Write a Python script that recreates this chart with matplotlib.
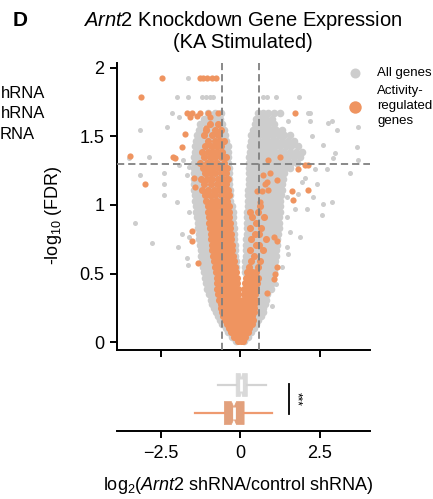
import matplotlib.pyplot as plt

plt.rcParams['font.family'] = ['Liberation Sans', 'DejaVu Sans']
plt.rcParams['mathtext.fontset'] = 'custom'
plt.rcParams['mathtext.rm'] = 'Liberation Sans'
plt.rcParams['mathtext.it'] = 'Liberation Sans:italic'
plt.rcParams['mathtext.bf'] = 'Liberation Sans:bold'

GRAY = '#cdcdcd'
ORANGE = '#ef9460'

# thresholds
fc_cut = 0.585      # log2(1.5)
fdr_cut = 1.301     # -log10(0.05)

# dense part of the volcano, read row by row (y = -log10 FDR)
band_y = [0.01, 0.04, 0.07, 0.10, 0.13, 0.16, 0.19, 0.22, 0.25, 0.28,
          0.31, 0.35, 0.39, 0.43, 0.47, 0.51, 0.55, 0.59, 0.63, 0.67,
          0.71, 0.75, 0.79, 0.83, 0.87, 0.91, 0.95, 0.99, 1.03, 1.07,
          1.11, 1.15, 1.19, 1.23, 1.27, 1.31, 1.35, 1.39, 1.43, 1.47,
          1.51, 1.55, 1.59, 1.63, 1.67]

band_gray_x = [
    [-0.13, 0.11],
    [-0.25, 0.23],
    [-0.37, -0.3, 0.29, 0.35],
    [-0.46, -0.38, 0.34, 0.42],
    [-0.56, -0.47, 0.4, 0.49],
    [-0.64, -0.55, 0.44, 0.54],
    [-0.71, -0.61, 0.47, 0.57, 0.66],
    [-0.77, -0.67, -0.59, 0.5, 0.6, 0.7],
    [-0.83, -0.73, -0.64, 0.51, 0.61, 0.72],
    [-0.88, -0.78, -0.68, 0.49, 0.59, 0.69, 0.79],
    [-0.93, -0.83, -0.73, 0.5, 0.6, 0.71, 0.82],
    [-0.98, -0.88, -0.78, 0.52, 0.62, 0.73, 0.85],
    [-1.03, -0.93, -0.82, 0.55, 0.65, 0.76, 0.88, 0.96],
    [-1.08, -0.97, -0.86, -0.77, 0.58, 0.68, 0.79, 0.9, 1.0],
    [-1.11, -1.0, -0.9, -0.8, 0.6, 0.7, 0.81, 0.92, 1.03],
    [-1.14, -1.04, -0.94, -0.84, 0.15, 0.24, 0.33, 0.43, 0.53, 0.63, 0.73, 0.84, 0.95, 1.05],
    [-1.17, -1.07, -0.97, -0.88, -0.13, 0.16, 0.25, 0.35, 0.45, 0.55, 0.65, 0.76, 0.87, 0.98, 1.08],
    [-1.2, -1.1, -1.0, -0.91, -0.15, 0.16, 0.26, 0.36, 0.46, 0.56, 0.66, 0.77, 0.88, 0.99, 1.09],
    [-1.22, -1.12, -1.02, -0.93, -0.16, 0.17, 0.27, 0.37, 0.47, 0.57, 0.68, 0.79, 0.9, 1.01, 1.11],
    [-1.24, -1.14, -1.04, -0.95, -0.17, 0.18, 0.28, 0.38, 0.48, 0.58, 0.69, 0.8, 0.91, 1.02, 1.12],
    [-1.26, -1.16, -1.06, -0.97, -0.18, 0.18, 0.28, 0.38, 0.49, 0.6, 0.71, 0.82, 0.93, 1.04, 1.14],
    [-1.28, -1.18, -1.08, -0.99, -0.19, 0.19, 0.29, 0.39, 0.5, 0.61, 0.72, 0.83, 0.94, 1.05, 1.16],
    [-1.3, -1.2, -1.1, -1.01, -0.2, 0.2, 0.3, 0.4, 0.51, 0.62, 0.73, 0.84, 0.95, 1.07, 1.18],
    [-1.32, -1.22, -1.12, -1.03, -0.21, 0.2, 0.3, 0.41, 0.52, 0.63, 0.74, 0.85, 0.97, 1.09, 1.2],
    [-1.34, -1.24, -1.14, -1.05, -0.22, 0.21, 0.31, 0.42, 0.53, 0.64, 0.75, 0.86, 0.98, 1.1, 1.21],
    [-1.36, -1.26, -1.16, -1.07, -0.23, 0.22, 0.32, 0.43, 0.54, 0.65, 0.76, 0.87, 0.99, 1.11, 1.22],
    [-1.38, -1.28, -1.18, -1.09, -0.24, 0.22, 0.32, 0.43, 0.54, 0.65, 0.77, 0.88, 1.0, 1.12, 1.24],
    [-1.4, -1.3, -1.2, -1.1, -0.25, 0.23, 0.33, 0.44, 0.55, 0.66, 0.78, 0.89, 1.01, 1.13, 1.25],
    [-1.42, -1.32, -1.22, -1.12, -1.02, -0.92, -0.82, -0.72, -0.62, -0.52, -0.42, -0.31,
     0.24, 0.34, 0.45, 0.56, 0.67, 0.79, 0.9, 1.02, 1.14, 1.26],
    [-1.43, -1.33, -1.23, -1.13, -1.03, -0.93, -0.83, -0.73, -0.63, -0.53, -0.43, -0.32,
     0.25, 0.35, 0.46, 0.57, 0.68, 0.8, 0.91, 1.03, 1.15, 1.28],
    [-1.44, -1.34, -1.24, -1.14, -1.04, -0.94, -0.84, -0.74, -0.64, -0.54, -0.44, -0.33,
     0.25, 0.35, 0.46, 0.57, 0.69, 0.81, 0.93, 1.05, 1.17, 1.3],
    [-1.45, -1.35, -1.25, -1.15, -1.05, -0.95, -0.85, -0.75, -0.65, -0.55, -0.45, -0.34,
     0.26, 0.36, 0.47, 0.58, 0.7, 0.82, 0.94, 1.06, 1.18, 1.32],
    [-1.46, -1.36, -1.26, -1.16, -1.06, -0.96, -0.86, -0.76, -0.66, -0.56, -0.46, -0.35,
     0.26, 0.36, 0.47, 0.58, 0.7, 0.82, 0.95, 1.07, 1.2, 1.34],
    [-1.46, -1.35, -1.24, -1.13, -1.02, -0.91, -0.8, -0.69, -0.58, -0.47, -0.36,
     0.27, 0.37, 0.48, 0.6, 0.72, 0.84, 0.97, 1.1, 1.23, 1.38],
    [-1.45, -1.34, -1.23, -1.12, -1.01, -0.9, -0.79, -0.68, -0.57, -0.46, -0.36,
     0.27, 0.38, 0.49, 0.61, 0.73, 0.86, 0.99, 1.12, 1.26, 1.4, 1.55],
    [-1.45, -1.34, -1.23, -1.12, -1.01, -0.9, -0.79, -0.68, -0.57, -0.46, -0.37,
     0.28, 0.39, 0.5, 0.62, 0.74, 0.87, 1.0, 1.14, 1.28, 1.43, 1.6, 1.78],
    [-1.44, -1.33, -1.22, -1.11, -1.0, -0.89, -0.78, -0.67, -0.56, -0.45, -0.37,
     0.28, 0.4, 0.52, 0.64, 0.77, 0.9, 1.04, 1.18, 1.33, 1.5, 1.68, 1.88],
    [-1.43, -1.32, -1.21, -1.1, -0.99, -0.88, -0.77, -0.66, -0.55, -0.44, -0.38,
     0.29, 0.41, 0.54, 0.67, 0.8, 0.94, 1.08, 1.23, 1.38, 1.55, 1.74, 1.95],
    [-1.42, -1.3, -1.18, -1.06, -0.94, -0.82, -0.7, -0.58, -0.46, -0.39,
     0.3, 0.42, 0.55, 0.68, 0.82, 0.96, 1.1, 1.25, 1.42, 1.6, 1.8],
    [-1.4, -1.28, -1.16, -1.04, -0.92, -0.8, -0.68, -0.56, -0.45,
     0.32, 0.44, 0.57, 0.7, 0.84, 0.98, 1.13, 1.3, 1.48, 1.68],
    [-1.37, -1.24, -1.1, -0.96, -0.84, -0.72, -0.6, -0.48,
     0.35, 0.47, 0.6, 0.74, 0.88, 1.04, 1.2, 1.38, 1.56],
    [-1.3, -1.15, -1.0, -0.85, -0.72, -0.6, -0.5, 0.4, 0.52, 0.66, 0.8, 0.95, 1.12, 1.3],
    [-1.25, -1.05, -0.88, -0.72, -0.58, 0.45, 0.58, 0.72, 0.88, 1.05],
    [-1.15, -0.95, -0.8, -0.64, 0.5, 0.64, 0.8, 0.98],
    [-1.0, -0.78, -0.6, 0.55, 0.7, 0.86, 1.05, 1.25],
]

band_orange_x = [
    [-0.07, 0.02, 0.08],
    [-0.19, -0.1, -0.01, 0.08, 0.16],
    [-0.28, -0.19, -0.1, -0.01, 0.08, 0.17, 0.25],
    [-0.35, -0.26, -0.17, -0.08, 0.01, 0.1, 0.19, 0.28],
    [-0.43, -0.34, -0.25, -0.16, -0.07, 0.02, 0.11, 0.2, 0.29, 0.36],
    [-0.49, -0.4, -0.31, -0.22, -0.13, -0.04, 0.05, 0.14, 0.23, 0.32, 0.4],
    [-0.53, -0.44, -0.35, -0.26, -0.17, -0.08, 0.02, 0.11, 0.2, 0.29, 0.38],
    [-0.56, -0.47, -0.38, -0.29, -0.2, -0.11, -0.02, 0.07, 0.16, 0.25, 0.34, 0.42],
    [-0.59, -0.5, -0.41, -0.32, -0.23, -0.14, -0.05, 0.05, 0.14, 0.23, 0.32, 0.42],
    [-0.62, -0.53, -0.44, -0.35, -0.26, -0.17, -0.08, 0.07, 0.16, 0.25, 0.34, 0.43],
    [-0.66, -0.57, -0.48, -0.39, -0.3, -0.21, -0.12, -0.04, 0.09, 0.18, 0.27, 0.36, 0.45],
    [-0.7, -0.61, -0.52, -0.43, -0.34, -0.25, -0.16, -0.07, 0.11, 0.2, 0.29, 0.38, 0.47],
    [-0.72, -0.63, -0.54, -0.45, -0.36, -0.27, -0.18, -0.08, 0.13, 0.22, 0.31, 0.4, 0.49],
    [-0.72, -0.63, -0.54, -0.45, -0.36, -0.27, -0.18, -0.09, 0.16, 0.25, 0.34, 0.43, 0.52],
    [-0.74, -0.65, -0.56, -0.47, -0.38, -0.29, -0.2, -0.11, 0.18, 0.27, 0.36, 0.45, 0.55],
    [-0.77, -0.68, -0.59, -0.5, -0.41, -0.32, -0.23, -0.13, 0.2, 0.38, 0.5],
    [-0.8, -0.71, -0.62, -0.53, -0.44, -0.35, -0.26, -0.16, 0.28, 0.55],
    [-0.83, -0.74, -0.65, -0.56, -0.47, -0.38, -0.29, -0.2, 0.33, 0.62],
    [-0.86, -0.77, -0.68, -0.59, -0.5, -0.41, -0.32, -0.23, 0.42],
    [-0.88, -0.79, -0.7, -0.61, -0.52, -0.43, -0.34, -0.25, 0.3, 0.7],
    [-0.9, -0.81, -0.72, -0.63, -0.54, -0.45, -0.36, -0.27, 0.5, 0.6],
    [-0.91, -0.82, -0.73, -0.64, -0.55, -0.46, -0.37, -0.28, 0.35, 0.82],
    [-0.93, -0.84, -0.75, -0.66, -0.57, -0.48, -0.39, -0.3, 0.45, 0.58],
    [-0.95, -0.86, -0.77, -0.68, -0.59, -0.5, -0.41, -0.31, 0.3, 0.66],
    [-0.97, -0.88, -0.79, -0.7, -0.61, -0.52, -0.43, -0.33, 0.5],
    [-0.99, -0.9, -0.81, -0.72, -0.63, -0.54, -0.45, -0.35, 0.37, 0.73],
    [-1.0, -0.91, -0.82, -0.73, -0.64, -0.55, -0.46, -0.36, 0.29, 0.57],
    [-1.02, -0.92, -0.82, -0.72, -0.62, -0.52, -0.42, -0.34, 0.62],
    [-1.06, -0.88, -0.72, -0.57, -0.42],
    [-1.12, -0.96, -0.78, -0.62, -0.48, -0.36],
    [-1.2, -1.0, -0.82, -0.66, -0.5, -0.38],
    [-1.14, -0.92, -0.74, -0.58, -0.44],
    [-1.22, -1.05, -0.88, -0.7, -0.53, -0.4],
    [-1.1, -0.95, -0.8, -0.62, -0.46],
    [-1.18, -1.0, -0.84, -0.68, -0.55, -0.42],
    [-1.25, -1.05, -0.9, -0.72, -0.5],
    [-1.15, -0.95, -0.78, -0.62, -0.46],
    [-1.2, -1.02, -0.86, -0.7, -0.56],
    [-1.1, -0.92, -0.75, -0.6],
    [-1.0, -0.8, -0.65, -0.52],
    [-1.15, -0.88, -0.7],
    [-1.06, -0.8, -0.6],
    [-0.95, -0.7],
    [],
    [],
]

# scattered genes outside the dense band
gray_x = [-1.64, -1.98, -1.64, -1.2, -1.07, -0.95, -0.86, -2.14, -1.92, -2.3, -3.14,
          -3.49, -2.86, -1.8, -1.92, -1.61, -3.14, -2.39, -1.67, -2.39, -2.39, -1.98,
          -1.61, -3.3, -1.83, -1.61, -2.77, -1.95, -1.67, -1.64,
          0.71, 0.84, 1.12, 1.84, 2.12, 2.19, 1.5, 2.19, 2.75, 2.87, 3.03, 3.68,
          1.65, 2.25, 2.59, 2.97, 3.65, 3.68, 2.91, 2.34, 2.72, 3.44, 2.03, 1.93,
          2.4, 1.34, 1.81, 2.28, 1.46, 2.87, 2.59, 1.71, 2.09, 2.56, 1.46, 1.87,
          1.56, 1.46, 1.5, 1.31, 1.12, 0.99]
gray_y = [1.93, 1.79, 1.79, 1.79, 1.79, 1.79, 1.79, 1.67, 1.64, 1.57, 1.55,
          1.34, 1.35, 1.33, 1.29, 1.28, 1.22, 1.23, 1.22, 1.15, 1.07, 1.02,
          0.95, 0.87, 0.79, 0.77, 0.72, 0.69, 0.61, 0.56,
          1.79, 1.79, 1.79, 1.79, 1.67, 1.67, 1.61, 1.61, 1.6, 1.61, 1.55, 1.57,
          1.46, 1.5, 1.44, 1.38, 1.42, 1.33, 1.34, 1.26, 1.26, 1.23, 1.2, 1.17,
          1.15, 1.11, 1.08, 1.06, 1.06, 1.02, 1.01, 0.97, 0.97, 0.93, 0.91, 0.77,
          0.8, 0.69, 0.64, 0.55, 0.42, 0.26]

orange_x = [-2.45, -1.26, -1.17, -1.04, -0.89, -0.76, -3.11, -1.67, -1.51, -1.26,
            -1.01, -0.7, -1.57, -1.36, -0.95, -1.07, -1.73, -1.83, -3.46, -2.11,
            -2.05, -1.45, -2.99, -1.42, -1.51, -1.51, -1.33,
            1.71, 1.24, 0.87, 2.03, 2.12, 1.81, 0.93, 0.71, 1.15, 0.84, 0.77,
            0.52, 0.68, 0.87, 1.62, 2.12, 1.65, 0.62, 1.15, 1.06, 1.09, 1.15,
            0.84, 1.06]
orange_y = [1.93, 1.93, 1.93, 1.93, 1.93, 1.93, 1.79, 1.67, 1.67, 1.67,
            1.67, 1.67, 1.64, 1.65, 1.64, 1.56, 1.52, 1.42, 1.36, 1.35,
            1.34, 1.2, 1.15, 1.13, 0.81, 0.74, 0.58,
            1.67, 1.35, 1.33, 1.29, 1.29, 1.26, 1.23, 1.22, 1.18, 1.17, 1.15,
            1.1, 1.1, 1.11, 1.1, 1.11, 1.04, 1.02, 0.74, 0.77, 0.5, 0.55,
            0.36, 0.46]

# box plot summaries of log2 fold change
box_labels = ['All genes', 'Activity-regulated genes']
box_med = [0.03, -0.2]
box_q1 = [-0.13, -0.5]
box_q3 = [0.22, 0.12]
box_lo = [-0.71, -1.42]
box_hi = [0.8, 1.0]
box_cilo = [0.0, -0.28]
box_cihi = [0.07, -0.12]

bgx = [x for row in band_gray_x for x in row]
bgy = [y for y, row in zip(band_y, band_gray_x) for _ in row]
box_ = [x for row in band_orange_x for x in row]
boy = [y for y, row in zip(band_y, band_orange_x) for _ in row]

W, H = 433, 499
fig = plt.figure(figsize=(W / 100, H / 100), dpi=100)

ax = fig.add_axes([117 / W, 1 - 350 / H, 253 / W, 287 / H])
ax.scatter(bgx, bgy, s=30, c=GRAY, linewidths=0, zorder=1)
hg = ax.scatter(gray_x, gray_y, s=13, c=GRAY, linewidths=0, zorder=1)
ax.scatter(box_, boy, s=26, c=ORANGE, linewidths=0, zorder=2)
ho = ax.scatter(orange_x, orange_y, s=20, c=ORANGE, linewidths=0, zorder=2)

dash = dict(color='#808080', lw=1.3, ls=(0, (4, 2.2)), zorder=3)
ax.axvline(-fc_cut, **dash)
ax.axvline(fc_cut, **dash)
ax.axhline(fdr_cut, **dash)

ax.set_xlim(-3.865, 4.066)
ax.set_ylim(-0.058, 2.036)
ax.set_xticks([-2.5, 0, 2.5])
ax.set_xticklabels([])
ax.set_yticks([0, 0.5, 1, 1.5, 2])
ax.set_yticklabels(['0', '0.5', '1', '1.5', '2'])
ax.tick_params(length=5, width=1.4, labelsize=13, pad=4)
for s in ['top', 'right']:
    ax.spines[s].set_visible(False)
for s in ['left', 'bottom']:
    ax.spines[s].set_linewidth(1.4)

leg = ax.legend(handles=[hg, ho], labels=['All genes', 'Activity-\nregulated\ngenes'],
                loc='upper left', bbox_to_anchor=(348 / W, 1 - 67 / H),
                bbox_transform=fig.transFigure, frameon=False, fontsize=9.5,
                markerscale=2.0, scatterpoints=1, handlelength=1.1,
                handletextpad=1.1, borderpad=0, borderaxespad=0, labelspacing=0.45)
for t in leg.get_texts():
    t.set_linespacing(1.3)

# box plots
bx = fig.add_axes([117 / W, 1 - 431 / H, 253 / W, 69 / H])
box_pos = [2, 1]
box_fill = ['#d9d9d9', '#e2a07c']
whisk_col = ['#d3d3d3', '#ee9a70']
for i in range(2):
    st = [dict(med=box_med[i], q1=box_q1[i], q3=box_q3[i], whislo=box_lo[i],
               whishi=box_hi[i], cilo=box_cilo[i], cihi=box_cihi[i],
               fliers=[], label=box_labels[i])]
    bx.bxp(st, positions=[box_pos[i]], widths=0.82, orientation='horizontal',
           patch_artist=True, shownotches=True, showcaps=False, showfliers=False,
           boxprops=dict(facecolor=box_fill[i], edgecolor=box_fill[i], lw=0.5),
           whiskerprops=dict(color=whisk_col[i], lw=1.6),
           medianprops=dict(color='white', lw=2))

sig_x = 1.52
bx.plot([sig_x, sig_x], [0.97, 2.03], color='black', lw=1.3)
bx.text(sig_x + 0.25, 1.5, '***', rotation=270, ha='center', va='center', fontsize=8.5)

bx.set_xlim(-3.865, 4.066)
bx.set_ylim(0.36, 2.82)
bx.set_yticks([])
bx.set_xticks([-2.5, 0, 2.5])
bx.set_xticklabels(['\u22122.5', '0', '2.5'])
bx.tick_params(length=5, width=1.4, labelsize=13, pad=5)
for s in ['top', 'right', 'left']:
    bx.spines[s].set_visible(False)
bx.spines['bottom'].set_linewidth(1.4)

fig.text(243 / W, 1 - 9 / H,
         r'$\mathit{Arnt2}$ Knockdown Gene Expression' + '\n(KA Stimulated)',
         ha='center', va='top', fontsize=14.5, linespacing=1.05)
fig.text(13 / W, 1 - 21 / H, 'D', fontsize=15, fontweight='bold', va='center')
fig.text(53 / W, 1 - 215 / H, r'-log$_{10}$ (FDR)', rotation=90,
         ha='center', va='center', fontsize=13)
fig.text(238.5 / W, 1 - 486 / H, r'log$_2$($\mathit{Arnt2}$ shRNA/control shRNA)',
         ha='center', va='center', fontsize=13)

# legend of the neighbouring panel, only its right end is in view
fig.text(1 / W, 1 - 93 / H, 'hRNA', ha='left', va='center', fontsize=12)
fig.text(1 / W, 1 - 114 / H, 'hRNA', ha='left', va='center', fontsize=12)
fig.text(0 / W, 1 - 135 / H, 'RNA', ha='left', va='center', fontsize=12)

fig.savefig('out.png', dpi=100)
